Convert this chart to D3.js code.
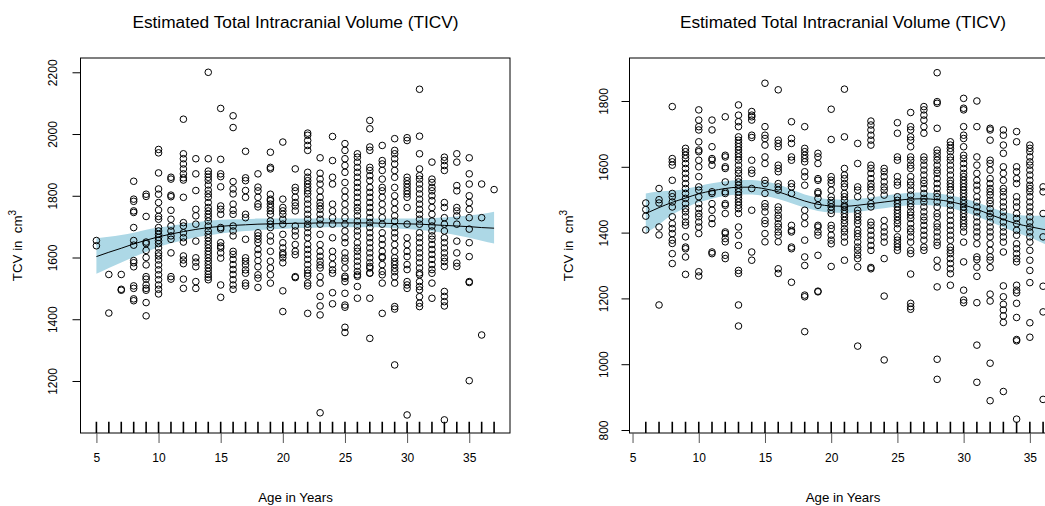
<!DOCTYPE html>
<html>
<head>
<meta charset="utf-8">
<script src="https://cdn.jsdelivr.net/npm/d3@7"></script>
<style>
  html, body { margin: 0; padding: 0; background: #fff; }
  svg { display: block; font-family: "Liberation Sans", Arial, Helvetica, sans-serif; }
</style>
</head>
<body>
<svg id="chart" width="1045" height="506"></svg>
<script>
// ---- Data: TICV (cm^3) by age in years, one column per age ----
const chartTitle = "Estimated Total Intracranial Volume (TICV)";
const xLabel = "Age in Years";
const xTicks = [5, 10, 15, 20, 25, 30, 35];

// Left sample
const leftAges = [5,6,7,8,9,10,11,12,13,14,15,16,17,18,19,20,21,22,23,24,25,26,27,28,29,30,31,32,33,34,35,36,37];
const leftTicv = [
  [1655, 1638],
  [1545, 1420],
  [1545, 1497, 1494],
  [1847, 1789, 1782, 1751, 1746, 1697, 1655, 1640, 1590, 1583, 1570, 1508, 1500, 1466, 1460],
  [1805, 1798, 1733, 1650, 1645, 1623, 1600, 1576, 1538, 1530, 1511, 1500, 1494, 1454, 1411],
  [1950, 1939, 1874, 1822, 1805, 1778, 1754, 1733, 1724, 1697, 1686, 1675, 1665, 1655, 1645, 1631, 1615, 1605, 1592, 1576, 1560, 1544, 1528, 1511, 1497, 1482],
  [1860, 1854, 1802, 1797, 1753, 1724, 1702, 1686, 1670, 1659, 1615, 1538, 1530],
  [2048, 1936, 1920, 1903, 1887, 1871, 1858, 1851, 1795, 1713, 1702, 1680, 1664, 1650, 1605, 1592, 1580, 1530, 1500],
  [1920, 1871, 1817, 1756, 1735, 1708, 1653, 1599, 1585, 1570, 1522, 1500],
  [2200, 1920, 1880, 1870, 1860, 1850, 1835, 1818, 1806, 1795, 1778, 1762, 1751, 1740, 1730, 1718, 1702, 1686, 1675, 1664, 1653, 1642, 1631, 1620, 1610, 1599, 1588, 1577, 1566, 1555, 1545, 1536, 1528],
  [2083, 1918, 1871, 1862, 1829, 1767, 1756, 1740, 1697, 1692, 1648, 1637, 1631, 1615, 1598, 1511, 1471],
  [2059, 2021, 1846, 1822, 1806, 1773, 1753, 1740, 1702, 1686, 1670, 1620, 1610, 1594, 1577, 1561, 1545, 1528, 1511, 1497],
  [1944, 1858, 1849, 1817, 1795, 1740, 1729, 1659, 1599, 1588, 1576, 1560, 1549, 1517, 1508],
  [1871, 1828, 1816, 1795, 1773, 1764, 1680, 1670, 1659, 1648, 1626, 1610, 1590, 1570, 1544, 1533, 1503],
  [1941, 1892, 1887, 1805, 1789, 1784, 1773, 1762, 1751, 1740, 1718, 1708, 1697, 1670, 1653, 1620, 1588, 1566, 1544, 1517],
  [1974, 1789, 1762, 1751, 1740, 1724, 1708, 1675, 1648, 1631, 1615, 1609, 1599, 1583, 1492, 1425],
  [1887, 1827, 1816, 1795, 1778, 1767, 1751, 1702, 1686, 1670, 1642, 1620, 1609, 1538, 1535],
  [2003, 1996, 1979, 1963, 1947, 1876, 1860, 1849, 1838, 1827, 1816, 1806, 1789, 1773, 1756, 1740, 1724, 1708, 1697, 1680, 1664, 1642, 1626, 1610, 1594, 1577, 1560, 1549, 1540, 1517, 1508, 1419],
  [1923, 1873, 1854, 1838, 1816, 1795, 1778, 1767, 1756, 1740, 1724, 1708, 1675, 1642, 1620, 1604, 1588, 1576, 1566, 1538, 1517, 1474, 1443, 1414, 1097],
  [1992, 1914, 1860, 1838, 1773, 1751, 1729, 1708, 1664, 1620, 1600, 1577, 1560, 1549, 1486, 1450],
  [1969, 1947, 1920, 1898, 1876, 1843, 1816, 1795, 1773, 1751, 1729, 1708, 1686, 1664, 1648, 1615, 1598, 1588, 1566, 1539, 1533, 1522, 1484, 1446, 1439, 1374, 1357],
  [1936, 1925, 1909, 1892, 1876, 1860, 1843, 1827, 1811, 1795, 1778, 1762, 1751, 1735, 1718, 1702, 1686, 1670, 1648, 1631, 1620, 1604, 1588, 1572, 1555, 1544, 1539, 1506, 1468],
  [2044, 2017, 1958, 1947, 1892, 1882, 1865, 1849, 1827, 1811, 1795, 1778, 1762, 1746, 1729, 1713, 1697, 1680, 1664, 1648, 1631, 1615, 1599, 1583, 1571, 1566, 1550, 1549, 1468, 1338],
  [1963, 1914, 1903, 1882, 1854, 1827, 1816, 1795, 1773, 1751, 1729, 1708, 1680, 1659, 1642, 1620, 1603, 1599, 1577, 1555, 1544, 1517, 1419],
  [1985, 1947, 1936, 1920, 1903, 1882, 1860, 1827, 1800, 1778, 1756, 1735, 1718, 1697, 1680, 1664, 1642, 1620, 1599, 1587, 1577, 1565, 1554, 1538, 1517, 1441, 1433, 1252],
  [1988, 1979, 1860, 1849, 1838, 1827, 1816, 1806, 1795, 1762, 1708, 1664, 1642, 1620, 1603, 1577, 1561, 1522, 1511, 1500, 1090],
  [2145, 1993, 1936, 1887, 1865, 1854, 1838, 1822, 1806, 1789, 1773, 1756, 1740, 1724, 1708, 1680, 1664, 1648, 1631, 1615, 1599, 1583, 1566, 1550, 1544, 1522, 1506, 1495, 1473, 1452, 1441],
  [1909, 1854, 1843, 1827, 1816, 1800, 1784, 1762, 1740, 1718, 1702, 1686, 1670, 1659, 1642, 1626, 1610, 1594, 1577, 1561, 1549, 1517, 1468],
  [1925, 1914, 1898, 1882, 1778, 1762, 1729, 1708, 1686, 1664, 1648, 1631, 1615, 1599, 1587, 1571, 1490, 1474, 1457, 1443, 1074],
  [1936, 1909, 1833, 1816, 1762, 1751, 1735, 1708, 1653, 1615, 1582, 1571],
  [1923, 1871, 1838, 1800, 1778, 1756, 1729, 1692, 1648, 1603, 1522, 1519, 1201],
  [1838, 1729, 1349],
  [1820]
];
// Smoothed trend with confidence band (left sample)
const leftFit = [1603,1617,1630,1644,1656,1667,1676,1684,1691,1697,1701,1704,1706,1708,1709,1710,1711,1711,1712,1712,1712,1712,1712,1711,1710,1709,1708,1706,1704,1702,1700,1697,1695];
const leftLower = [1547,1566,1584,1602,1618,1634,1646,1656,1665,1672,1678,1683,1686,1689,1691,1693,1695,1696,1697,1698,1698,1698,1698,1697,1695,1692,1689,1685,1679,1672,1664,1654,1645];
const leftUpper = [1662,1667,1673,1680,1690,1697,1703,1709,1714,1719,1722,1724,1725,1726,1726,1726,1726,1726,1727,1727,1727,1727,1727,1726,1726,1726,1727,1728,1730,1733,1737,1741,1748];
const leftYTicks = [1200, 1400, 1600, 1800, 2000, 2200];

// Right sample
const rightAges = [6,7,8,9,10,11,12,13,14,15,16,17,18,19,20,21,22,23,24,25,26,27,28,29,30,31,32,33,34,35,36];
const rightTicv = [
  [1490, 1470, 1450, 1408],
  [1534, 1500, 1490, 1417, 1393, 1180],
  [1783, 1625, 1615, 1605, 1559, 1519, 1509, 1493, 1478, 1448, 1427, 1412, 1397, 1377, 1367, 1336, 1306],
  [1656, 1646, 1635, 1625, 1610, 1595, 1580, 1565, 1549, 1534, 1519, 1504, 1488, 1473, 1463, 1448, 1432, 1422, 1387, 1356, 1351, 1326, 1273],
  [1773, 1742, 1722, 1712, 1676, 1651, 1646, 1620, 1600, 1570, 1539, 1529, 1509, 1488, 1473, 1458, 1448, 1432, 1417, 1397, 1281, 1268],
  [1742, 1712, 1661, 1625, 1620, 1605, 1524, 1519, 1488, 1468, 1443, 1427, 1341, 1336],
  [1752, 1635, 1630, 1600, 1595, 1554, 1524, 1519, 1488, 1483, 1458, 1402, 1397, 1382, 1372, 1331, 1321],
  [1788, 1757, 1737, 1722, 1691, 1681, 1671, 1661, 1651, 1640, 1630, 1620, 1605, 1590, 1580, 1565, 1554, 1544, 1534, 1524, 1514, 1504, 1493, 1483, 1473, 1458, 1417, 1392, 1361, 1285, 1276, 1180, 1116],
  [1768, 1757, 1752, 1742, 1696, 1689, 1620, 1590, 1580, 1534, 1468, 1341, 1316],
  [1854, 1722, 1696, 1686, 1666, 1630, 1610, 1559, 1549, 1519, 1488, 1478, 1463, 1437, 1427, 1397, 1372],
  [1834, 1681, 1671, 1661, 1605, 1595, 1585, 1549, 1539, 1529, 1478, 1468, 1453, 1443, 1427, 1417, 1402, 1392, 1372, 1290, 1276],
  [1737, 1686, 1671, 1630, 1620, 1549, 1539, 1519, 1422, 1407, 1402, 1356, 1351, 1249],
  [1722, 1656, 1646, 1635, 1625, 1615, 1585, 1570, 1544, 1468, 1448, 1427, 1377, 1326, 1300, 1210, 1205, 1099],
  [1641, 1630, 1610, 1564, 1559, 1524, 1519, 1504, 1483, 1422, 1417, 1402, 1392, 1331, 1222, 1220],
  [1775, 1683, 1570, 1559, 1549, 1529, 1509, 1498, 1488, 1478, 1468, 1458, 1422, 1412, 1392, 1377, 1366, 1297],
  [1836, 1691, 1595, 1575, 1564, 1549, 1539, 1519, 1509, 1498, 1483, 1478, 1468, 1458, 1448, 1437, 1427, 1412, 1402, 1387, 1371, 1316],
  [1671, 1610, 1539, 1529, 1509, 1468, 1458, 1448, 1437, 1427, 1407, 1397, 1387, 1371, 1356, 1346, 1332, 1321, 1296, 1055],
  [1739, 1727, 1712, 1696, 1681, 1666, 1605, 1595, 1580, 1564, 1549, 1539, 1529, 1509, 1488, 1478, 1432, 1422, 1407, 1392, 1377, 1361, 1346, 1294, 1290],
  [1595, 1585, 1570, 1554, 1539, 1529, 1514, 1437, 1417, 1402, 1387, 1371, 1321, 1207, 1013],
  [1734, 1702, 1630, 1620, 1570, 1554, 1544, 1509, 1498, 1488, 1478, 1468, 1458, 1448, 1437, 1427, 1412, 1387, 1377, 1366, 1356, 1346],
  [1765, 1722, 1712, 1691, 1681, 1661, 1630, 1620, 1605, 1595, 1570, 1554, 1544, 1529, 1514, 1498, 1488, 1478, 1463, 1453, 1443, 1427, 1412, 1402, 1387, 1371, 1346, 1336, 1274, 1185, 1175, 1167],
  [1783, 1773, 1757, 1742, 1722, 1702, 1630, 1620, 1605, 1590, 1575, 1559, 1549, 1534, 1519, 1504, 1493, 1478, 1463, 1448, 1437, 1422, 1407, 1392, 1377, 1356, 1346],
  [1886, 1798, 1793, 1717, 1651, 1641, 1630, 1620, 1605, 1590, 1580, 1564, 1549, 1534, 1519, 1509, 1493, 1478, 1458, 1448, 1427, 1417, 1402, 1387, 1371, 1361, 1316, 1295, 1235, 1015, 954],
  [1676, 1666, 1656, 1646, 1630, 1620, 1605, 1590, 1575, 1559, 1549, 1539, 1529, 1514, 1498, 1483, 1468, 1453, 1437, 1422, 1407, 1392, 1377, 1356, 1346, 1336, 1321, 1306, 1290, 1275, 1240],
  [1808, 1778, 1773, 1722, 1696, 1686, 1661, 1635, 1625, 1610, 1595, 1580, 1570, 1559, 1549, 1539, 1529, 1519, 1509, 1498, 1488, 1478, 1468, 1458, 1448, 1437, 1427, 1417, 1402, 1371, 1311, 1225, 1195, 1187],
  [1800, 1722, 1630, 1605, 1580, 1559, 1544, 1529, 1509, 1493, 1478, 1463, 1448, 1432, 1417, 1402, 1387, 1366, 1326, 1318, 1295, 1267, 1187, 1058, 945],
  [1717, 1712, 1681, 1620, 1610, 1590, 1564, 1549, 1534, 1524, 1514, 1498, 1488, 1473, 1458, 1448, 1432, 1417, 1402, 1387, 1366, 1346, 1326, 1316, 1294, 1213, 1192, 1003, 889],
  [1712, 1696, 1666, 1641, 1600, 1580, 1559, 1534, 1524, 1509, 1493, 1478, 1463, 1448, 1432, 1417, 1402, 1387, 1371, 1341, 1238, 1205, 1182, 1165, 1147, 1127, 917],
  [1707, 1676, 1600, 1585, 1564, 1549, 1509, 1493, 1478, 1458, 1443, 1427, 1407, 1392, 1366, 1351, 1336, 1321, 1311, 1240, 1225, 1217, 1185, 1142, 1075, 1071, 833],
  [1666, 1656, 1646, 1630, 1615, 1605, 1590, 1575, 1559, 1544, 1534, 1524, 1509, 1493, 1478, 1463, 1448, 1432, 1417, 1402, 1387, 1371, 1346, 1316, 1285, 1248, 1126, 1082],
  [1539, 1524, 1458, 1387, 1237, 1159, 893]
];
// Smoothed trend with confidence band (right sample), ages 6..37
const rightFitAges = [6,7,8,9,10,11,12,13,14,15,16,17,18,19,20,21,22,23,24,25,26,27,28,29,30,31,32,33,34,35,36,37];
const rightFit = [1458,1476,1492,1505,1518,1527,1534,1538,1538,1533,1524,1510,1496,1486,1481,1480,1483,1488,1493,1498,1502,1503,1500,1494,1484,1471,1455,1440,1427,1418,1410,1402];
const rightLower = [1399,1425,1455,1475,1492,1503,1512,1516,1516,1511,1502,1489,1476,1466,1461,1460,1463,1469,1474,1479,1483,1484,1481,1475,1464,1450,1433,1416,1400,1385,1368,1350];
const rightUpper = [1519,1525,1527,1533,1542,1550,1556,1560,1560,1555,1546,1531,1516,1506,1501,1500,1503,1507,1512,1517,1521,1522,1519,1513,1504,1492,1477,1464,1454,1451,1452,1454];
const rightYTicks = [800, 1000, 1200, 1400, 1600, 1800];

// ---- Layout ----
const svg = d3.select("#chart");
const tickFont = 12;
const labelFont = 13.3;
const titleFont = 17.3;

function drawPanel(p) {
  const x = d3.scaleLinear().domain(p.xDomain).range([p.left, p.right]);
  const y = d3.scaleLinear().domain(p.yDomain).range([p.bottom, p.top]);
  const g = svg.append("g");

  // confidence band
  const bandData = p.fitAges.map((a, i) => ({a, lo: p.lower[i], hi: p.upper[i], f: p.fit[i]}));
  g.append("path")
    .datum(bandData)
    .attr("fill", "#add8e6")
    .attr("stroke", "none")
    .attr("d", d3.area().x(d => x(d.a)).y0(d => y(d.lo)).y1(d => y(d.hi)).curve(d3.curveMonotoneX));

  // points
  const pts = [];
  p.ages.forEach((a, i) => p.values[i].forEach(v => pts.push({a, v})));
  g.append("g").selectAll("circle").data(pts).join("circle")
    .attr("cx", d => x(d.a)).attr("cy", d => y(d.v)).attr("r", 3.3)
    .attr("fill", "none").attr("stroke", "#000").attr("stroke-width", 1);

  // smooth line
  g.append("path")
    .datum(bandData)
    .attr("fill", "none").attr("stroke", "#000").attr("stroke-width", 1)
    .attr("d", d3.line().x(d => x(d.a)).y(d => y(d.f)).curve(d3.curveMonotoneX));

  // rug along the bottom
  g.append("g").selectAll("line").data(p.ages).join("line")
    .attr("x1", d => x(d)).attr("x2", d => x(d))
    .attr("y1", p.bottom).attr("y2", p.bottom - 0.03 * (p.bottom - p.top))
    .attr("stroke", "#000").attr("stroke-width", 1.6);

  // box
  g.append("rect")
    .attr("x", p.left).attr("y", p.top)
    .attr("width", p.right - p.left).attr("height", p.bottom - p.top)
    .attr("fill", "none").attr("stroke", "#000").attr("stroke-width", 1);

  // x axis
  const xa = d3.axisBottom(x).tickValues(xTicks).tickSize(10).tickPadding(10).tickFormat(d3.format("d"));
  const xg = g.append("g").attr("transform", `translate(0,${p.bottom})`).call(xa);
  xg.select(".domain").remove();
  xg.selectAll(".tick line").attr("stroke", "#555");
  xg.selectAll(".tick text").attr("font-size", tickFont).attr("font-family", "Liberation Sans, Arial, sans-serif").attr("fill", "#000");

  // y axis
  const ya = d3.axisLeft(y).tickValues(p.yTicks).tickSize(8).tickPadding(4).tickFormat(d3.format("d"));
  const yg = g.append("g").attr("transform", `translate(${p.left},0)`).call(ya);
  yg.select(".domain").remove();
  yg.selectAll(".tick line").attr("stroke", "#000");
  yg.selectAll(".tick text")
    .attr("font-size", tickFont).attr("font-family", "Liberation Sans, Arial, sans-serif").attr("fill", "#000")
    .attr("x", null).attr("dy", null)
    .attr("text-anchor", "middle")
    .attr("transform", `translate(${p.yLabelX - p.left},0) rotate(-90)`);

  // titles
  svg.append("text").attr("x", p.cx).attr("y", 28)
    .attr("text-anchor", "middle").attr("font-size", titleFont).text(chartTitle);
  svg.append("text").attr("x", p.cx).attr("y", 502)
    .attr("text-anchor", "middle").attr("font-size", labelFont).text(xLabel);
  const yt = svg.append("text")
    .attr("transform", `translate(${p.yTitleX},${(p.top + p.bottom) / 2}) rotate(-90)`)
    .attr("text-anchor", "middle").attr("font-size", labelFont);
  yt.append("tspan").text("TCV in\u00a0\u00a0cm");
  yt.append("tspan").attr("dy", -6).attr("font-size", 10).text("3");
}

drawPanel({
  ages: leftAges, values: leftTicv, fitAges: leftAges, fit: leftFit, lower: leftLower, upper: leftUpper,
  yTicks: leftYTicks,
  xDomain: [3.72, 38.28], yDomain: [1031.5, 2246.3],
  left: 80.5, right: 510, top: 58, bottom: 433,
  cx: 295.5, yLabelX: 57, yTitleX: 22
});

drawPanel({
  ages: rightAges, values: rightTicv, fitAges: rightFitAges, fit: rightFit, lower: rightLower, upper: rightUpper,
  yTicks: rightYTicks,
  xDomain: [4.77, 37.05], yDomain: [790.9, 1930.7],
  left: 629.5, right: 1057, top: 58, bottom: 433,
  cx: 843, yLabelX: 608, yTitleX: 573
});
</script>
</body>
</html>
